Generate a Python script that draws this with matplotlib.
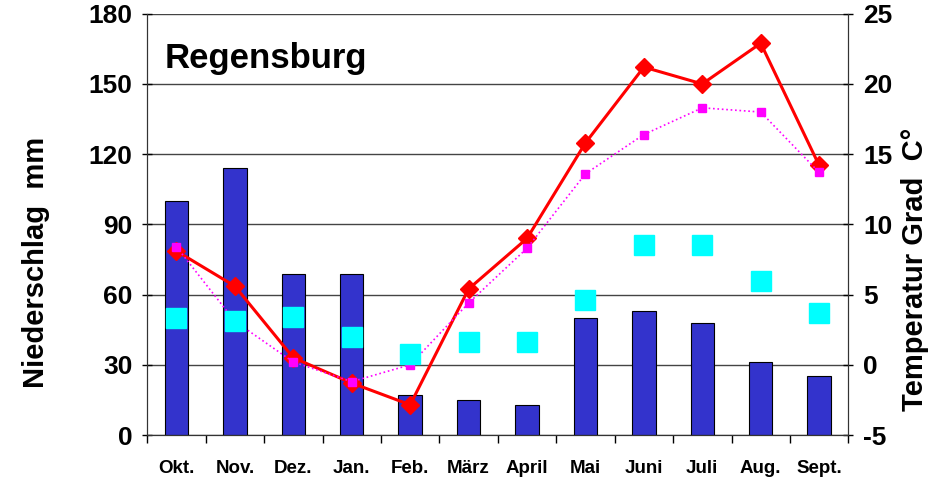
import matplotlib.pyplot as plt
import numpy as np

plt.rcParams['font.family'] = ['Liberation Sans', 'DejaVu Sans']
plt.rcParams['font.weight'] = 'bold'
plt.rcParams['axes.unicode_minus'] = False

months = ["Okt.", "Nov.", "Dez.", "Jan.", "Feb.", "März", "April",
          "Mai", "Juni", "Juli", "Aug.", "Sept."]
niederschlag = [100, 114, 69, 69, 17, 15, 13, 50, 53, 48, 31, 25]
temp_red = [8.1, 5.6, 0.5, -1.3, -2.85, 5.4, 9.0, 15.8, 21.2, 20.0, 22.9, 14.2]
temp_magenta = [8.4, 3.1, 0.2, -1.2, 0.0, 4.4, 8.3, 13.6, 16.4, 18.3, 18.0, 13.7]
temp_cyan = [3.3, 3.1, 3.4, 2.0, 0.8, 1.6, 1.6, 4.6, 8.5, 8.5, 6.0, 3.7]

x = np.arange(len(months))

fig = plt.figure(figsize=(9.5, 4.82), dpi=100)
ax = fig.add_axes([0.155, 0.0975, 0.738, 0.874])
ax2 = ax.twinx()

ax.set_ylim(0, 180)
ax.set_yticks(np.arange(0, 181, 30))
ax.set_xlim(-0.5, 11.5)
ax.yaxis.grid(True, color='#444444', linewidth=1.0)
ax.set_axisbelow(True)

ax.bar(x, niederschlag, width=0.4, color='#3333CC', edgecolor='black',
       linewidth=0.8, zorder=2)

ax2.set_ylim(-5, 25)
ax2.set_yticks(np.arange(-5, 26, 5))
ax2.plot(x, temp_red, linestyle='-', linewidth=2.2, marker='D',
         markersize=9, color='#FF0000', zorder=3)
ax2.plot(x, temp_magenta, linestyle=':', linewidth=1.2, marker='s',
         markersize=5.5, color='#FF00FF', zorder=4)
ax2.plot(x, temp_cyan, linestyle='none', marker='s', markersize=15,
         color='#00FFFF', zorder=5)

# x ticks at category boundaries, labels centred
ax.set_xticks(np.arange(-0.5, 12, 1))
ax.set_xticklabels([])
ax.set_xticks(x, minor=True)
ax.set_xticklabels(months, minor=True, fontsize=13.5, fontweight='bold')
ax.tick_params(axis='x', which='minor', length=0, pad=18)
ax.tick_params(axis='x', which='major', length=6, direction='out', width=1)

ax.tick_params(axis='y', labelsize=19, direction='inout', length=7, width=1, pad=7)
ax2.tick_params(axis='y', labelsize=19, direction='inout', length=7, width=1, pad=7)
for lbl in ax.get_yticklabels() + ax2.get_yticklabels():
    lbl.set_fontweight('bold')

ax.spines['top'].set_visible(False)
ax2.spines['top'].set_visible(False)
for sp in ['left', 'right', 'bottom']:
    ax2.spines[sp].set_color('#333333')
    ax.spines[sp].set_color('#333333')

ax.set_ylabel("Niederschlag  mm", fontsize=21, fontweight='bold')
ax.yaxis.set_label_coords(-0.138, 0.409)
ax2.set_ylabel("Temperatur Grad  C°", fontsize=21, fontweight='bold')
ax2.yaxis.set_label_coords(1.075, 0.392)

ax.text(0.025, 0.872, "Regensburg", transform=ax.transAxes, fontsize=25,
        fontweight='bold', va='baseline', ha='left')

fig.savefig("out.png", dpi=100)
